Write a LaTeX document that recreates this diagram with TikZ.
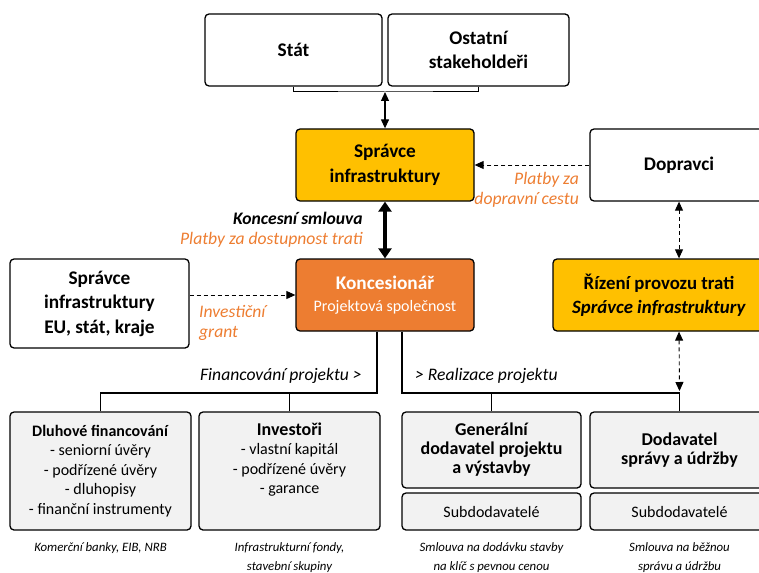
\documentclass[tikz,border=0pt]{standalone}
\usepackage{fontspec}
\setmainfont{Carlito}
\usepackage{xcolor}
\usetikzlibrary{arrows.meta,positioning}
\definecolor{infra}{HTML}{FFC000}
\definecolor{konc}{HTML}{ED7D31}
\definecolor{boxgray}{HTML}{F2F2F2}

\begin{document}
\begin{tikzpicture}[
  x=1pt, y=-1pt,
  box/.style={draw, line width=1.3pt, rounded corners=4pt, fill=white,
              align=center, inner sep=2pt, minimum height=72pt,
              font=\fontsize{19.3}{24.5}\selectfont\bfseries},
  ybox/.style={box, fill=infra},
  obox/.style={box, fill=konc, text=white},
  gbox/.style={box, fill=boxgray, font=\fontsize{16}{19.5}\selectfont},
  lbl/.style={font=\fontsize{17.6}{20}\selectfont\itshape, inner sep=0pt},
  olbl/.style={lbl, text=konc},
  captxt/.style={font=\fontsize{12.8}{19}\selectfont\itshape, align=center,
              inner sep=0pt, anchor=north},
  arr/.style={{Triangle[length=9pt,width=8pt]}-{Triangle[length=9pt,width=8pt]},
              line width=1.2pt},
  bigarr/.style={{Triangle[length=10pt,width=13pt]}-{Triangle[length=10pt,width=13pt]},
              line width=3.2pt},
  darr/.style={-{Triangle[length=9pt,width=8pt]}, line width=0.9pt,
              dash pattern=on 4pt off 3pt},
  ddarr/.style={darr, {Triangle[length=9pt,width=8pt]}-{Triangle[length=9pt,width=8pt]}},
  tree/.style={line width=1.1pt}
]
\useasboundingbox (0,0) rectangle (759,572);

% stakeholders
\node[box, minimum width=177pt] (stat) at (293.5,50) {Stát};
\node[box, minimum width=181pt] (ost) at (478.5,50) {Ostatní\\stakeholdeři};
\coordinate (brk) at (385,92);

% infrastructure manager, operators
\node[ybox, minimum width=178pt] (spr) at (385,165) {Správce\\infrastruktury};
\node[box, minimum width=178pt] (dop) at (679,165) {Dopravci};

% concessionaire row
\node[obox, minimum width=178pt] (kon) at (385,295)
  {Koncesionář\\[-2pt]{\fontsize{16}{19}\selectfont\mdseries Projektová společnost}};
\node[box, minimum width=179pt, minimum height=89pt] (eu) at (99.5,303.5)
  {Správce\\infrastruktury\\EU, stát, kraje};
\node[ybox, minimum width=212pt, font=\fontsize{18.8}{24.5}\selectfont\bfseries] (riz) at (659,295)
  {Řízení provozu trati\\\textit{Správce infrastruktury}};

% financing and delivery
\node[gbox, minimum width=181pt, minimum height=118pt] (dluh) at (100.5,471)
  {\textbf{Dluhové financování}\\- seniorní úvěry\\- podřízené úvěry\\- dluhopisy\\- finanční instrumenty};
\node[gbox, minimum width=181pt, minimum height=118pt] (inv) at (289.5,471)
  {{\fontsize{18}{19.5}\selectfont\bfseries Investoři}\\- vlastní kapitál\\- podřízené úvěry\\- garance\\\strut};
\node[gbox, minimum width=179pt, minimum height=76pt,
      font=\fontsize{18}{19}\selectfont\bfseries] (gen) at (491.5,450)
  {Generální\\dodavatel projektu\\a výstavby};
\node[gbox, minimum width=179pt, minimum height=37pt] (sub1) at (491.5,511.5) {Subdodavatelé};
\node[gbox, minimum width=179pt, minimum height=76pt,
      font=\fontsize{18}{19}\selectfont\bfseries] (dod) at (679.5,450)
  {Dodavatel\\správy a údržby};
\node[gbox, minimum width=179pt, minimum height=37pt] (sub2) at (679.5,511.5) {Subdodavatelé};

% captions
\node[captxt] (c1) at (100.5,542) {Komerční banky, EIB, NRB};
\node[captxt] (c2) at (289.5,542) {Infrastrukturní fondy,\\stavební skupiny};
\node[captxt] (c3) at (491.5,542) {Smlouva na dodávku stavby\\na klíč s pevnou cenou};
\node[captxt] (c4) at (679.5,542) {Smlouva na běžnou\\správu a údržbu};

% connectors
\draw[line width=1pt] (stat.south) |- (brk) -| (ost.south);
\draw[arr] (brk) -- (spr.north);
\draw[darr] (dop) -- (spr);
\draw[bigarr] (spr) -- (kon);
\draw[ddarr] (dop.south) -- (dop.south |- riz.north);
\draw[darr] (eu.east |- kon) -- (kon);
\coordinate (fin) at (0,393);
\draw[tree] ([xshift=-8pt]kon.south) |- (dluh.north |- fin) -- (dluh.north);
\draw[tree] (inv.north) -- (inv.north |- fin);
\draw[tree] ([xshift=17pt]kon.south) |- (dod.north |- fin) -- (dod.north);
\draw[tree] (gen.north) -- (gen.north |- fin);
\draw[ddarr] (dop.south |- riz.south) -- ([yshift=2pt]dod.north |- fin);

% labels
\node[olbl, anchor=north east, align=right] (pl1) at (579,172) {Platby za\\dopravní cestu};
\node[lbl, anchor=east, font=\fontsize{17.6}{20}\selectfont\bfseries\itshape] (ks) at (363,218) {Koncesní smlouva};
\node[olbl, anchor=east] (pl2) at (363,240) {Platby za dostupnost trati};
\node[olbl, anchor=north west, align=left] (ig) at (199,305) {Investiční\\grant};
\node[lbl, anchor=east] (fp) at (362,376) {Financování projektu >};
\node[lbl, anchor=west] (rp) at (415,376) {> Realizace projektu};
\end{tikzpicture}
\end{document}
